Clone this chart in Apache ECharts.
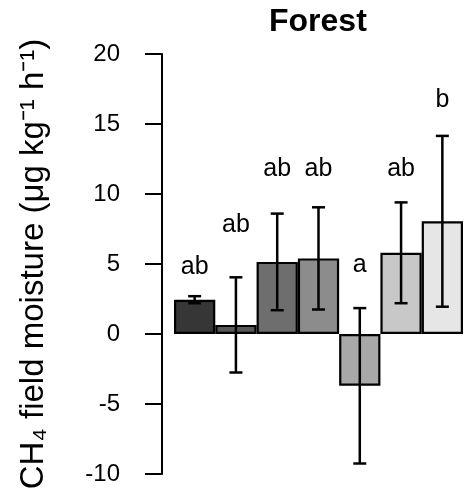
<!DOCTYPE html>
<html><head><meta charset="utf-8">
<script src="https://cdn.jsdelivr.net/npm/echarts@6/dist/echarts.min.js"></script>
<style>html,body{margin:0;padding:0;background:#fff}#c{width:464px;height:502px}</style>
</head><body><div id="c"></div>
<script>
const categories = ['T1','T2','T3','T4','T5','T6','T7'];
const means = [2.45, 0.65, 5.15, 5.4, -3.7, 5.8, 8.05];
const errors = [0.25, 3.4, 3.45, 3.65, 5.55, 3.6, 6.1];
const letters = ['ab','ab','ab','ab','a','ab','b'];
const letterY = [4.8, 7.8, 11.8, 11.8, 4.9, 11.8, 16.7];
const barColors = ['#363636','#585858','#6e6e6e','#8c8c8c','#a8a8a8','#c8c8c8','#e6e6e6'];
const yTicks = [-10, -5, 0, 5, 10, 15, 20];

const FONT = '"Liberation Sans", Arial, sans-serif';
const chart = echarts.init(document.getElementById('c'));
const errData = means.map((m, i) => [i, m - errors[i], m + errors[i]]);
const letterData = letters.map((t, i) => [i, letterY[i], t]);

chart.setOption({
  animation: false,
  title: {
    text: 'Forest', left: 269, top: 6,
    padding: 0,
    textStyle: { fontFamily: FONT, fontWeight: 'bold', fontSize: 32, color: '#000' }
  },
  grid: { left: 174, right: 1, top: 54, bottom: 28, containLabel: false, outerBoundsMode: 'none' },
  xAxis: {
    type: 'category', data: categories, boundaryGap: true,
    axisLine: { show: false }, axisTick: { show: false }, axisLabel: { show: false }
  },
  yAxis: {
    type: 'value', min: yTicks[0], max: yTicks[yTicks.length - 1], interval: 5,
    offset: 12,
    name: 'CH\u2084 field moisture (\u03BCg kg\u207B\u00B9 h\u207B\u00B9)',
    nameLocation: 'middle', nameGap: 112, nameRotate: 90,
    nameTextStyle: { fontFamily: FONT, fontSize: 33, color: '#000' },
    axisLine: { show: true, lineStyle: { color: '#000', width: 2 } },
    axisTick: { show: true, length: 17, lineStyle: { color: '#000', width: 2 } },
    axisLabel: { margin: 42, fontFamily: FONT, fontSize: 24, color: '#000' },
    splitLine: { show: false }
  },
  series: [
    {
      type: 'bar', barWidth: '100%', barCategoryGap: '0%',
      data: means.map((v, i) => ({ value: v, itemStyle: { color: barColors[i] } })),
      itemStyle: { borderColor: '#000', borderWidth: 2.2 },
      z: 2
    },
    {
      type: 'custom', z: 5,
      renderItem: function (params, api) {
        const x = api.value(0);
        const lo = api.coord([x, api.value(1)]);
        const hi = api.coord([x, api.value(2)]);
        const hw = 6.5;
        const st = { stroke: '#000', lineWidth: 2.5 };
        return { type: 'group', children: [
          { type: 'line', shape: { x1: lo[0], y1: lo[1], x2: hi[0], y2: hi[1] }, style: st },
          { type: 'line', shape: { x1: lo[0] - hw, y1: lo[1], x2: lo[0] + hw, y2: lo[1] }, style: st },
          { type: 'line', shape: { x1: hi[0] - hw, y1: hi[1], x2: hi[0] + hw, y2: hi[1] }, style: st }
        ]};
      },
      data: errData
    },
    {
      type: 'custom', z: 6,
      renderItem: function (params, api) {
        const p = api.coord([api.value(0), api.value(1)]);
        return { type: 'text', style: {
          x: p[0], y: p[1], text: letters[params.dataIndex],
          align: 'center', verticalAlign: 'middle',
          fontFamily: FONT, fontSize: 25, fill: '#000'
        }};
      },
      data: letterData
    }
  ]
});
</script></body></html>
